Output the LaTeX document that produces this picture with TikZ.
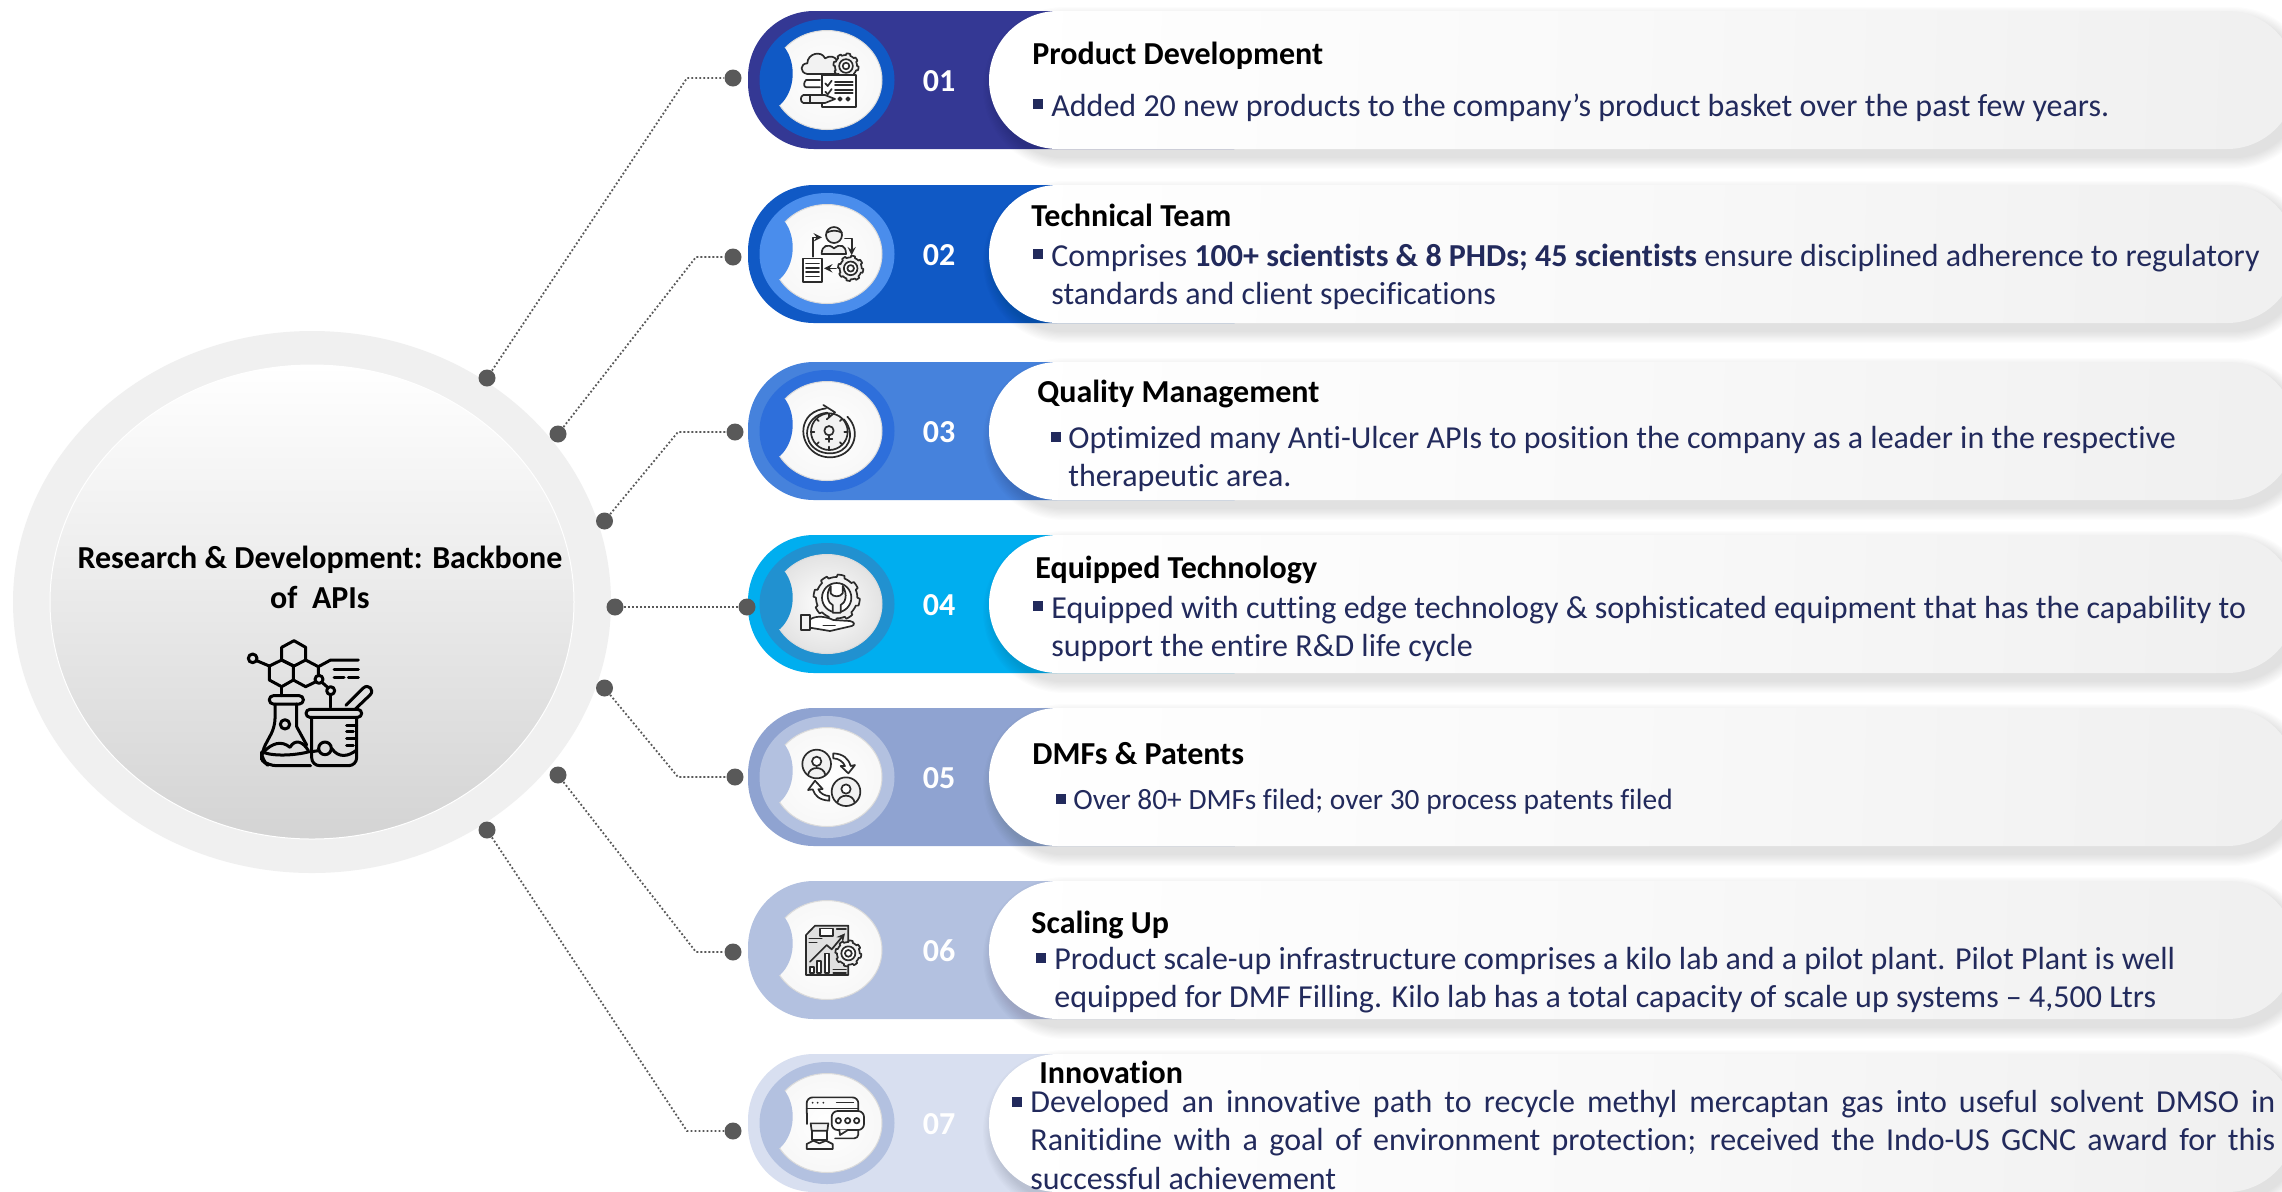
\documentclass[tikz,border=0pt]{standalone}
\usepackage{fontspec}
\setmainfont[Ligatures=CommonOff]{Carlito}
\usetikzlibrary{calc}
\definecolor{navytxt}{HTML}{222A5C}
\definecolor{dotgray}{HTML}{595959}
\definecolor{icdark}{HTML}{2B2B2B}
\definecolor{iclight}{HTML}{F2F2F2}
\definecolor{barA}{HTML}{343894}\definecolor{ringA}{HTML}{1059C5}
\definecolor{barB}{HTML}{1059C5}\definecolor{ringB}{HTML}{4A8DEC}
\definecolor{barC}{HTML}{4682DC}\definecolor{ringC}{HTML}{2E6FDB}
\definecolor{barD}{HTML}{00AEEF}\definecolor{ringD}{HTML}{2191D0}
\definecolor{barE}{HTML}{8FA3D1}\definecolor{ringE}{HTML}{B3C1E0}
\definecolor{barF}{HTML}{B3C1E0}\definecolor{ringF}{HTML}{B3C1E0}
\definecolor{barG}{HTML}{D8DFF0}\definecolor{ringG}{HTML}{B3C1E0}
\tikzset{
  titletxt/.style={anchor=base west,inner sep=0pt,font=\fontsize{16}{19}\selectfont\bfseries,text=black},
  bodytxt/.style={anchor=north west,inner sep=0pt,align=left,font=\fontsize{16}{19}\selectfont,text=navytxt},
  numtxt/.style={inner sep=0pt,font=\fontsize{16}{19}\selectfont\bfseries,text=white},
  condot/.style={circle,fill=dotgray,inner sep=0pt,minimum size=8.5pt},
  conline/.style={draw=dotgray,line width=.9pt,dash pattern=on .9pt off 1.1pt},
  icl/.style={draw=icdark,line width=.85pt,line join=round,line cap=round},
  icf/.style={icl,fill=iclight},
  icb/.style={draw=black,line width=1.5pt,line join=round,line cap=round},
  zoomrow/.style={x=.16667pt,y=-.16667pt},
}
\newcommand\gearico[3]{\draw[icf] plot[domain=0:360,samples=145] ({#1+#3*(1+.15*(sin(8*\x)>0))*cos(\x)},{#2+#3*(1+.15*(sin(8*\x)>0))*sin(\x)}) -- cycle;
  \draw[icl,fill=white] (#1,#2) circle [radius=#3*.62];
  \draw[icl] (#1,#2) circle [radius=#3*.3];}
\newcommand\bul[2]{\fill[navytxt] (#1,#2) rectangle ++(10,10);}
\newcommand\bodystrut{\rule{0pt}{14pt}}
\begin{document}
\begin{tikzpicture}[x=.5pt,y=-.5pt]
\useasboundingbox (0,0) rectangle (2282,1191);
\clip (0,0) rectangle (2282,1191);
\fill[white] (0,0) rectangle (2282,1191);
% central disc
\fill[black!6] (312,602) ellipse [x radius=299,y radius=271];
\shade[top color=white,bottom color=black!17,draw=white,line width=.5pt] (312,602) ellipse [x radius=262,y radius=237];
% rows
\foreach \cy/\nm/\lab/\wf in {80/A/01/3,254/B/02/3,431/C/03/3,604/D/04/11,777/E/05/3,950/F/06/3,1123/G/07/3}{
  \fill[bar\nm,rounded corners=33pt] (748,\cy-69) rectangle (1300,\cy+69);
  \foreach \k in {1,...,10}{
    \fill[black,opacity=.013,rounded corners=34.5pt+.6pt*\k] (995-1.2*\k,\cy-61-1.2*\k) rectangle (2302+1.2*\k,\cy+77+1.2*\k);
  }
  \shade[left color=white,right color=black!6,middle color=black!2.5,shading angle=88,rounded corners=34.5pt] (989,\cy-69) rectangle (2296,\cy+69);
  \fill[ring\nm] (827,\cy) ellipse [x radius=67.5,y radius=61];
  \shade[inner color=white,outer color=black!\wf,draw=black!14,line width=.5pt] (827,\cy) ellipse [x radius=55,y radius=49.5];
  \fill[ring\nm] (785,\cy-32) .. controls (796,\cy-17) and (796,\cy+10) .. (780,\cy+25) -- (770,\cy+25) -- (770,\cy-32) -- cycle;
  \node[numtxt] (num\lab) at (939,\cy+1) {\lab};
}
% icon 1
\begin{scope}[shift={(720,0)},zoomrow]
  \draw[icf] (300,222) -- (262,222) .. controls (238,218) and (240,190) .. (262,190) .. controls (262,160) and (305,150) .. (315,175) .. controls (330,165) and (345,170) .. (350,180) -- (345,222) -- cycle;
  \draw[icl] (300,240) -- (258,240) .. controls (250,248) and (250,262) .. (260,262) -- (300,262);
  \gearico{378}{198}{33}
  \draw[icl,fill=white] (305,225) rectangle (408,320);
  \foreach \yy in {250,275}{\draw[icl] (316,\yy) -- (323,\yy+8) -- (335,\yy-8);\draw[icl] (345,\yy-4) -- (398,\yy-4);\draw[icl] (345,\yy+4) -- (398,\yy+4);}
  \draw[icf] (250,285) -- (315,285) -- (345,297) -- (315,309) -- (250,309) .. controls (240,305) and (240,289) .. (250,285) -- cycle;
  \draw[icl] (270,285) -- (270,309);
  \draw[icl] (360,297) circle [radius=5]; \draw[icl] (384,297) circle [radius=5];
\end{scope}
% icon 2
\begin{scope}[shift={(720,0)},zoomrow]
  \draw[icf] (342,705) circle [radius=24];
  \draw[icl] (320,698) .. controls (335,690) and (350,690) .. (366,698);
  \draw[icf] (305,762) .. controls (305,735) and (325,730) .. (342,745) .. controls (360,730) and (378,735) .. (378,762) -- cycle;
  \draw[icl,fill=white] (248,775) rectangle (306,845);
  \foreach \yy in {790,803,816,829}{\draw[icl] (258,\yy) -- (297,\yy);}
  \gearico{392}{805}{33}
  \draw[icl,-stealth] (278,770) -- (278,712) -- (306,712);
  \draw[icl,-stealth] (375,715) -- (395,715) -- (395,766);
  \draw[icl,-stealth] (348,805) -- (312,805);
\end{scope}
% icon 3
\begin{scope}[shift={(720,340)},zoomrow]
  \draw[icl] (382,230) .. controls (428,275) and (400,352) .. (330,352) .. controls (260,352) and (225,270) .. (270,225) .. controls (285,212) and (300,208) .. (318,205);
  \draw[icl] (372,238) .. controls (410,285) and (385,340) .. (330,340) .. controls (270,340) and (240,280) .. (278,238) .. controls (290,225) and (305,220) .. (322,218);
  \draw[icf] (328,275) circle [radius=55];
  \foreach \aa in {0,45,...,315}{\draw[icl] (328,275)++(\aa:45) -- ++(\aa:10);}
  \draw[icl] (310,195) -- (345,217) -- (320,238);
  \draw[icl] (327,272) circle [radius=14];
  \draw[icl] (327,286) -- (327,306); \draw[icl] (317,297) -- (337,297);
\end{scope}
% icon 4
\begin{scope}[shift={(720,340)},zoomrow]
  \draw[icf] plot[domain=0:360,samples=145] ({350+62*(1+.12*(sin(8*\x)>0))*cos(\x)},{773+62*(1+.12*(sin(8*\x)>0))*sin(\x)}) -- cycle;
  \draw[icl,fill=white] (350,773) circle [radius=44];
  \draw[icf] (332,738) .. controls (315,765) and (325,790) .. (338,795) -- (338,818) -- (362,818) -- (362,795) .. controls (375,790) and (385,765) .. (368,738) -- (368,760) .. controls (360,772) and (340,772) .. (332,760) -- cycle;
  \draw[icl,fill=white] (270,838) .. controls (290,825) and (320,830) .. (340,840) -- (390,843) .. controls (405,846) and (405,855) .. (395,858) -- (330,873) -- (270,863) -- cycle;
  \draw[icf] (242,825) rectangle (270,870);
  \draw[icl] (310,856) -- (345,856);
\end{scope}
% icon 5
\begin{scope}[shift={(720,690)},zoomrow]
  \foreach \ccx/\ccy in {290/222,378/305}{
    \draw[icf] (\ccx,\ccy) circle [radius=43];
    \draw[icl,fill=white] (\ccx,\ccy-8) circle [radius=14];
    \draw[icl] (\ccx-26,\ccy+33) .. controls (\ccx-22,\ccy+5) and (\ccx+22,\ccy+5) .. (\ccx+26,\ccy+33);
  }
  \draw[icl,fill=white] (340,190) .. controls (370,192) and (385,205) .. (392,228) -- (405,225) -- (385,250) -- (362,228) -- (375,228) .. controls (370,215) and (355,205) .. (340,205) -- cycle;
  \draw[icl,fill=white] (328,332) .. controls (298,330) and (285,318) .. (278,298) -- (264,300) -- (285,272) -- (308,297) -- (295,298) .. controls (300,310) and (315,318) .. (328,318) -- cycle;
\end{scope}
% icon 6
\begin{scope}[shift={(720,690)},zoomrow]
  \draw[icl,fill=black!12] (285,707) -- (385,707) -- (385,855) -- (258,855) -- (258,735) -- cycle;
  \draw[icl,fill=white] (300,715) rectangle (340,738);
  \draw[icl] (350,716) -- (378,716); \draw[icl] (268,745) -- (305,745); \draw[icl] (268,757) -- (290,757);
  \draw[icl,-stealth] (270,815) -- (320,765) -- (335,778) -- (375,730);
  \foreach \xx/\tt in {270/830,292/812,315/790}{\draw[icl,fill=white] (\xx,\tt) rectangle (\xx+12,848);}
  \gearico{385}{790}{34}
  \draw[icl] (340,838) -- (378,838); \draw[icl] (340,848) -- (378,848);
\end{scope}
% icon 7
\begin{scope}[shift={(720,1000)},zoomrow]
  \draw[icl,rounded corners=3pt] (260,340) -- (260,292) -- (415,292) -- (415,335);
  \draw[icl] (260,325) -- (415,325);
  \draw[icl] (260,340) -- (260,372);
  \draw[icl,rounded corners=2pt] (345,415) -- (415,415) -- (415,390);
  \foreach \xx in {278,293,310}{\fill[icdark] (\xx,308) circle [radius=3];}
  \draw[icl] (350,307) -- (400,307);
  \draw[icl,fill=white,rounded corners=3pt] (335,333) rectangle (432,390);
  \draw[icl,fill=white] (358,389) -- (360,405) -- (385,389);
  \foreach \xx in {355,383,410}{\draw[icl] (\xx,362) circle [radius=8];}
  \draw[icl,fill=white] (275,378) rectangle (322,420);
  \draw[icl,fill=iclight] (272,370) -- (325,370) -- (322,392) -- (275,392) -- cycle;
  \draw[icl] (260,447) -- (260,432) -- (280,422) -- (298,430) -- (318,422) -- (338,432) -- (338,447) -- cycle;
\end{scope}
% central icon
\begin{scope}[shift={(240,630)},x=.16667pt,y=-.16667pt]
  \draw[icb] (162,32) -- (197,52) -- (197,90) -- (162,108) -- (125,90) -- (125,52) -- cycle;
  \draw[icb] (125,90) -- (160,108) -- (160,150) -- (125,170) -- (88,150) -- (88,108) -- cycle;
  \draw[icb] (197,90) -- (235,110) -- (235,135);
  \draw[icb] (228,155) -- (197,170) -- (160,150);
  \draw[icb] (38,85) circle [radius=13];
  \draw[icb] (50,92) -- (88,108);
  \draw[icb] (235,110) -- (272,90) -- (355,90);
  \draw[icb] (282,117) -- (355,117);
  \draw[icb] (282,142) -- (312,142); \draw[icb] (325,142) -- (355,142);
  \draw[icb] (237,148) circle [radius=12];
  \draw[icb] (246,157) -- (263,172);
  \draw[icb] (272,182) circle [radius=12];
  \draw[icb] (272,194) -- (272,232);
  \draw[icb] (125,170) -- (125,197);
  \draw[icb,rounded corners=2pt] (88,197) rectangle (190,222);
  \draw[icb,rounded corners=4pt] (105,222) -- (105,290) -- (65,365) -- (65,390) -- (85,407) -- (212,407);
  \draw[icb] (170,222) -- (170,290) -- (200,345);
  \draw[icb] (135,283) circle [radius=14];
  \draw[icb] (72,365) .. controls (95,340) and (125,330) .. (150,352) .. controls (165,325) and (190,335) .. (205,362);
  \draw[icb] (72,368) .. controls (110,380) and (170,375) .. (208,365);
  \draw[icb,rounded corners=2pt] (198,238) rectangle (365,262);
  \draw[icb,rounded corners=4pt] (215,262) -- (215,407) -- (350,407) -- (350,262);
  \draw[icb] (320,285) -- (350,285); \draw[icb] (320,305) -- (340,305); \draw[icb] (320,325) -- (350,325); \draw[icb] (320,345) -- (340,345);
  \draw[icb] (215,365) -- (235,362);
  \draw[icb] (255,355) circle [radius=19];
  \draw[icb] (275,355) .. controls (295,385) and (325,380) .. (350,360);
  \draw[icb] (318,226) -- (370,174) .. controls (385,160) and (405,180) .. (390,195) -- (345,238);
\end{scope}
% connectors
\foreach \nn/\ax/\ay/\ex/\ey/\bx/\by in {1/487/378/687/78/733/78,2/558/434/696/257/733/257,3/604.5/521/678/432/735/432,5/604.5/688/678/777/735/777,6/558/775/696/952/733/952,7/487/830/687/1131/733/1131}{
  \node[condot] (ca\nn) at (\ax,\ay) {};
  \node[condot] (cb\nn) at (\bx,\by) {};
  \coordinate (el\nn) at (\ex,\ey);
  \draw[conline] (ca\nn) -- (el\nn) -- (cb\nn);
}
\node[condot] (ca4) at (615,607) {};
\node[condot] (cb4) at (747,607) {};
\draw[conline] (ca4) -- (cb4);
% centre title
\node (centretitle) [anchor=north,inner sep=0pt,align=center,font=\fontsize{16}{20}\selectfont\bfseries,text=black] at (320,540) {\bodystrut Research \& Development: Backbone\\of~~APIs};
% row texts
\begin{scope}[shift={(-1,1)}]
\node[titletxt] (t1) at (1033,63) {Product Development};
\bul{1034}{98}
\node[bodytxt] (b1) at (1052,87) {\bodystrut Added 20 new products to the company’s product basket over the past few years.};
\node[titletxt] (t2) at (1032,225) {Technical Team};
\bul{1034}{248}
\node[bodytxt] (b2) at (1052,237) {\bodystrut Comprises \textbf{100+ scientists \& 8 PHDs; 45 scientists} ensure disciplined adherence to regulatory\\standards and client specifications};
\node[titletxt] (t3) at (1038,401) {Quality Management};
\bul{1052}{431}
\node[bodytxt] (b3) at (1069,419) {\bodystrut Optimized many Anti-Ulcer APIs to position the company as a leader in the respective\\therapeutic area.};
\node[titletxt] (t4) at (1036,577) {Equipped Technology};
\bul{1034}{600}
\node[bodytxt] (b4) at (1052,589) {\bodystrut Equipped with cutting edge technology \& sophisticated equipment that has the capability to\\support the entire R\&D life cycle};
\node[titletxt] (t5) at (1033,763) {DMFs \& Patents};
\bul{1057}{793}
\node[bodytxt,font=\fontsize{14.7}{19}\selectfont] (b5) at (1074,780) {\bodystrut Over 80+ DMFs filed; over 30 process patents filed};
\node[titletxt] (t6) at (1032,932) {Scaling Up};
\bul{1037}{952}
\node[bodytxt] (b6) at (1055,940) {\bodystrut Product scale-up infrastructure comprises a kilo lab and a pilot plant. Pilot Plant is well\\equipped for DMF Filling. Kilo lab has a total capacity of scale up systems – 4,500 Ltrs};
\node[titletxt] (t7) at (1040,1082) {Innovation};
\bul{1013}{1096}
\node[bodytxt,font=\fontsize{16}{19.25}\selectfont] (b7) at (1031,1083) {\hbox to 622.5pt{\bodystrut Developed an innovative path to recycle methyl mercaptan gas into useful solvent DMSO in}\\\hbox to 622.5pt{Ranitidine with a goal of environment protection; received the Indo-US GCNC award for this}\\successful achievement};
\end{scope}
\end{tikzpicture}
\end{document}
